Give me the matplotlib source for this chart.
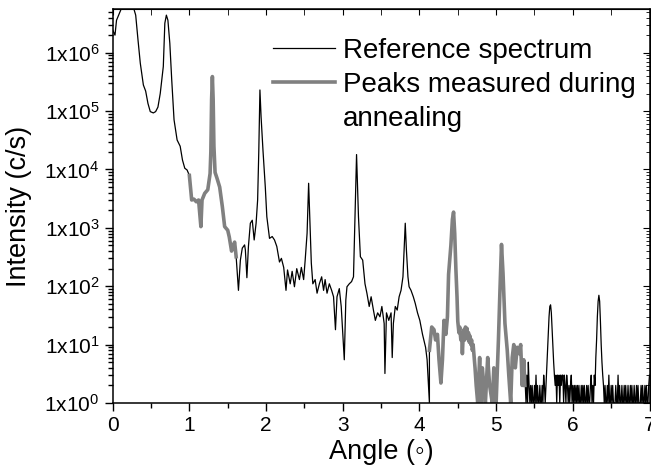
import numpy as np
import matplotlib.pyplot as plt
from matplotlib.ticker import MultipleLocator, LogLocator, FuncFormatter, NullFormatter
from matplotlib.lines import Line2D

plt.rcParams['font.family'] = ['Liberation Sans', 'DejaVu Sans']
plt.rcParams['mathtext.fontset'] = 'custom'
plt.rcParams['mathtext.rm'] = 'Liberation Sans'
plt.rcParams['mathtext.it'] = 'Liberation Sans'

# reference spectrum, low angle part (angle in deg, intensity in c/s)
ref1_x = [0.0, 0.03, 0.05, 0.095, 0.12, 0.16, 0.22, 0.27, 0.30, 0.33, 0.36, 0.40,
          0.43, 0.46, 0.49, 0.53, 0.56, 0.59, 0.62, 0.66, 0.68, 0.70, 0.72, 0.745,
          0.77, 0.80, 0.84, 0.88, 0.91, 0.94, 0.97, 1.0]
ref1_y = [2.45e6, 2.0e6, 3.6e6, 5.0e6, 6.0e6, 7.9e6, 7.9e6, 6.0e6, 4.4e6, 1.66e6, 6.6e5, 2.8e5,
          2.2e5, 1.35e5, 9.8e4, 9.3e4, 9.8e4, 1.17e5, 2.0e5, 5.8e5, 3.2e6, 4.4e6, 3.6e6, 1.45e6,
          3.4e5, 7.1e4, 3.2e4, 2.5e4, 1.45e4, 1.05e4, 9.8e3, 7.9e3]

# peaks measured during annealing, first window
ann1_x = [1.0, 1.03, 1.06, 1.09, 1.12, 1.15, 1.165, 1.20, 1.24, 1.27, 1.28, 1.29, 1.30,
          1.31, 1.32, 1.335, 1.36, 1.395, 1.43, 1.46, 1.50, 1.52, 1.55, 1.57, 1.59, 1.61]
ann1_y = [7.9e3, 3000, 3100, 2800, 3000, 1050, 3000, 3900, 4500, 8500, 2.0e4, 1.6e5, 3.9e5,
          1.6e5, 2.5e4, 8900, 7100, 5000, 2300, 1050, 910, 700, 400, 480, 570, 320]

# reference spectrum, middle part
ref2_x = [1.64, 1.665, 1.69, 1.72, 1.73, 1.75, 1.77, 1.795, 1.82, 1.845, 1.87, 1.89,
          1.905, 1.92, 1.935, 1.96, 1.99, 2.01, 2.045, 2.08, 2.11, 2.14, 2.175, 2.20,
          2.23, 2.26, 2.28, 2.315, 2.34, 2.37, 2.40, 2.435, 2.46, 2.49, 2.51, 2.535,
          2.555, 2.57, 2.59, 2.61, 2.64, 2.665, 2.695, 2.725, 2.75, 2.77, 2.795, 2.825,
          2.855, 2.88, 2.905, 2.925, 2.955, 2.98, 3.02, 3.04, 3.055, 3.085, 3.115, 3.14,
          3.16, 3.18, 3.205, 3.23, 3.26, 3.29, 3.315, 3.345, 3.37, 3.40, 3.425, 3.455,
          3.485, 3.51, 3.54, 3.55, 3.57, 3.60, 3.63, 3.645, 3.66, 3.685, 3.71, 3.735,
          3.76, 3.785, 3.80, 3.815, 3.83, 3.85, 3.865, 3.89, 3.92, 3.945, 3.975, 4.005,
          4.04, 4.08, 4.10, 4.13]
ref2_y = [85, 280, 450, 510, 420, 140, 480, 1200, 1350, 620, 1200, 3000,
          2.0e4, 2.3e5, 8.0e4, 2.1e4, 5000, 1550, 660, 710, 620, 480, 260, 300,
          210, 85, 190, 110, 180, 98, 200, 130, 210, 130, 280, 810,
          5800, 1550, 250, 110, 130, 76, 110, 145, 85, 130, 76, 110,
          85, 66, 18, 66, 91, 45, 5.5, 58, 98, 110, 120, 145,
          1550, 1.8e4, 1550, 320, 280, 110, 76, 45, 66, 39, 26, 35,
          30, 45, 23, 3.2, 35, 26, 35, 6, 23, 45, 39, 66,
          85, 145, 420, 1200, 420, 145, 98, 85, 66, 51, 35, 26,
          15, 9, 5.5, 1]

# peaks measured during annealing, second window
ann2_x = [4.13, 4.16, 4.19, 4.21, 4.235, 4.255, 4.28, 4.30, 4.32, 4.345, 4.365, 4.38,
          4.41, 4.43, 4.445, 4.46, 4.475, 4.49, 4.50, 4.515, 4.525, 4.54, 4.55, 4.56,
          4.57, 4.58, 4.59, 4.60, 4.61, 4.62, 4.63, 4.64, 4.65, 4.66, 4.67, 4.68,
          4.69, 4.70, 4.725, 4.74, 4.76, 4.785, 4.80, 4.82, 4.84, 4.86, 4.89, 4.915,
          4.95, 4.97, 5.0, 5.03, 5.05, 5.07, 5.09, 5.115, 5.145, 5.165, 5.19, 5.21,
          5.23, 5.25, 5.275, 5.30, 5.32, 5.34, 5.36, 5.375]
ann2_y = [8, 20, 18, 12, 15, 5.5, 2.2, 5.5, 26, 15, 30, 160,
          500, 1400, 1860, 800, 200, 66, 25, 16, 20, 12, 16, 7,
          14, 18, 12, 20, 15, 19, 13, 16, 11, 14, 10, 12,
          8, 10, 4, 2, 1, 6, 1, 4, 2, 1, 6, 2,
          1, 4, 1, 12, 85, 520, 165, 23, 8, 3, 1, 6,
          10, 4, 9, 7, 10, 2, 5.5, 2]

# reference spectrum, high angle tail (counts per 0.01 deg step from 5.38 deg)
tail_start = 5.38
tail_step = 0.01
tail_counts = [2, 1, 3, 1, 5, 2, 1, 2,
               1, 2, 1, 1, 2, 1, 3, 1, 2, 1,
               1, 2, 1, 1, 2, 1, 3, 2, 1,
               2, 4, 8, 16, 30, 45, 48, 35, 18, 9, 5, 3, 2, 3,
               1, 3, 2, 3, 1, 3, 2, 3, 3, 1, 3, 2, 1, 3, 2, 1, 2, 1, 2, 3, 1, 2, 1, 2, 1, 2, 1,
               2, 1, 2, 1, 1, 2, 1, 2, 1, 2, 1, 1, 2, 1, 2, 1, 1, 2, 3, 1,
               2, 1, 3, 2, 6, 12, 30, 55, 70, 55, 25, 10, 5, 3, 2,
               1, 2, 1, 1, 2, 1, 3, 1, 1, 2, 1, 2, 1, 1, 1, 2, 1, 1, 3, 1,
               2, 1, 1, 2, 1, 1, 2, 1, 2, 1, 1, 2, 1, 1, 2, 1, 2, 1, 1, 2,
               1, 1, 2, 1, 2, 1, 1, 1, 2, 1, 2, 1, 1, 2, 1, 2, 1, 1, 2, 3]
tail_x = tail_start + tail_step * np.arange(len(tail_counts))

ref_x = np.concatenate([ref1_x, ann1_x, ref2_x, ann2_x, tail_x])
ref_y = np.concatenate([ref1_y, ann1_y, ref2_y, ann2_y, tail_counts])

fig = plt.figure(figsize=(6.51, 4.75), dpi=100)
ax = fig.add_axes([0.1731, 0.1516, 0.8246, 0.8294])

ax.plot(ref_x, ref_y, color='black', lw=0.9)
ax.plot(ann1_x, ann1_y, color='#808080', lw=2.6, solid_joinstyle='round')
ax.plot(ann2_x, ann2_y, color='#808080', lw=2.6, solid_joinstyle='round')

ax.set_yscale('log', nonpositive='clip')
ax.set_xlim(0, 7)
ax.set_ylim(1, 5.6e6)

ax.xaxis.set_major_locator(MultipleLocator(1))
ax.xaxis.set_minor_locator(MultipleLocator(0.5))
ax.yaxis.set_major_locator(LogLocator(base=10, numticks=20))
ax.yaxis.set_minor_locator(LogLocator(base=10, subs=np.arange(2, 10), numticks=20))
ax.yaxis.set_minor_formatter(NullFormatter())
ax.yaxis.set_major_formatter(FuncFormatter(lambda v, p: '1x10$^{%d}$' % round(np.log10(v))))

ax.tick_params(which='both', direction='out', labelsize=15, width=1)
ax.tick_params(which='major', length=6)
ax.tick_params(which='minor', length=3.5)
for s in ax.spines.values():
    s.set_linewidth(1.1)

# mirrored ticks on top and right, pointing inward
top = ax.secondary_xaxis('top')
top.xaxis.set_major_locator(MultipleLocator(1))
top.xaxis.set_minor_locator(MultipleLocator(0.5))
top.xaxis.set_major_formatter(NullFormatter())
top.tick_params(which='both', direction='in', length=4)
right = ax.secondary_yaxis('right')
right.yaxis.set_major_locator(LogLocator(base=10, numticks=20))
right.yaxis.set_minor_locator(LogLocator(base=10, subs=np.arange(2, 10), numticks=20))
right.yaxis.set_major_formatter(NullFormatter())
right.yaxis.set_minor_formatter(NullFormatter())
right.tick_params(which='major', direction='in', length=5)
right.tick_params(which='minor', direction='in', length=3)

ax.set_xlabel('Angle (\u25e6)', fontsize=19.5, labelpad=3)
ax.set_ylabel('Intensity (c/s)', fontsize=19.5, labelpad=9)

handles = [Line2D([], [], color='black', lw=0.9),
           Line2D([], [], color='#808080', lw=2.6),
           Line2D([], [], color='none')]
labels = ['Reference spectrum', 'Peaks measured during', 'annealing']
ax.legend(handles, labels, loc='upper left', bbox_to_anchor=(0.299, 0.927),
          frameon=False, fontsize=20, handlelength=2.23, handletextpad=0.29,
          labelspacing=0.3, borderpad=0, borderaxespad=0)

fig.savefig('out.png', dpi=100)
